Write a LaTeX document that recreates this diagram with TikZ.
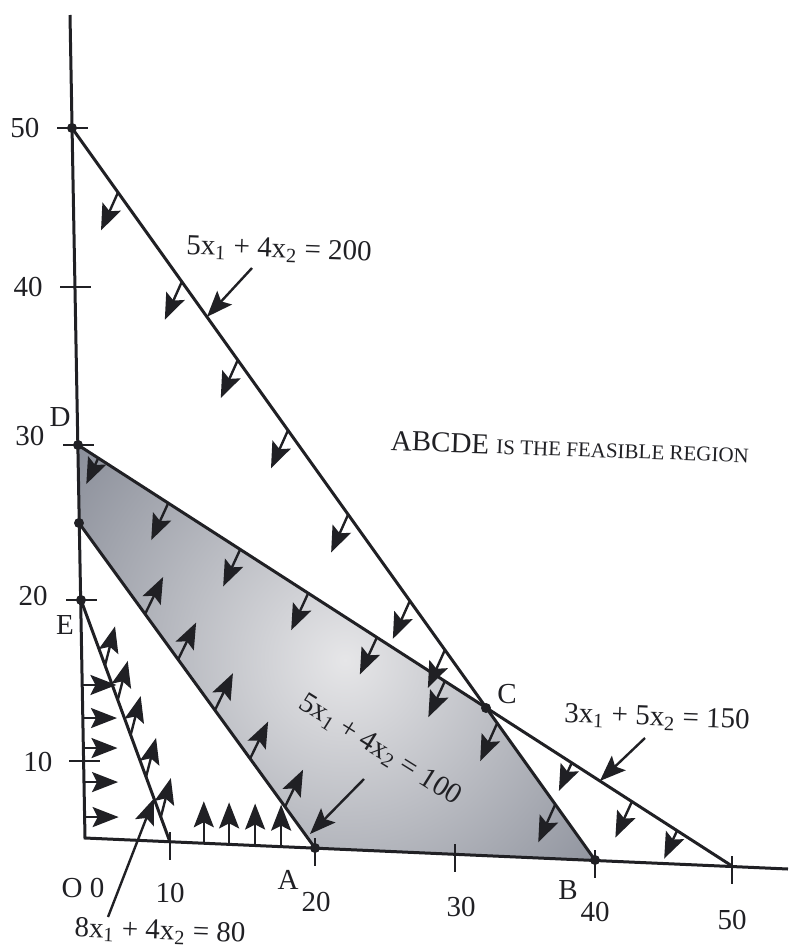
\documentclass[tikz,border=0pt]{standalone}
\usepackage{fontspec}
\setmainfont{Liberation Serif}
\usetikzlibrary{arrows.meta,calc}
\definecolor{ink}{RGB}{32,32,36}
\definecolor{regiondark}{RGB}{118,123,136}
\definecolor{regionlight}{RGB}{230,230,232}
\begin{document}
\begin{tikzpicture}[x=0.5pt, y=-0.5pt, >=Stealth,
  every node/.style={font=\fontsize{14.5}{17}\selectfont, inner sep=0pt, text=ink},
  cline/.style={draw=ink, line width=1.5pt},
  tickmark/.style={draw=ink, line width=1.3pt},
  hatcharrow/.style={draw=ink, line width=1.2pt, -{Stealth[length=13pt,width=10pt,inset=2.5pt]}},
  vdot/.style={circle, fill=ink, minimum size=5pt, inner sep=0pt},
  lbl/.style={rotate=-2}]
\useasboundingbox (0,0) rectangle (788,948);
\coordinate (ytop) at (70,15);
\coordinate (O) at (85,838);
\coordinate (xend) at (788,869);
\coordinate (p50) at (72,128);
\coordinate (y40) at (75,287);
\coordinate (D) at (78,445);
\coordinate (F) at (79,523);
\coordinate (E) at (81,600);
\coordinate (y10) at (84,761);
\coordinate (t10) at (170,842);
\coordinate (A) at (315,848);
\coordinate (t30) at (455,854);
\coordinate (B) at (595,860);
\coordinate (t50) at (732,866);
\coordinate (C) at (486,708);

\begin{scope}
  \clip (F) -- (D) -- (C) -- (B) -- (A) -- cycle;
  \shade[inner color=regionlight, outer color=regiondark] (345,660) circle (420);
\end{scope}

\draw[cline] (ytop) -- (O) -- (xend);
\draw[cline] (p50) -- (B);
\draw[cline] (D) -- (t50);
\draw[cline] (F) -- (A);
\draw[cline] (E) -- (t10);

\foreach \p in {p50,y40,D,E,y10}
  \draw[tickmark] ([xshift=-7.5pt]\p) -- ([xshift=8pt]\p);
\foreach \p in {t10,A,t30,B,t50}
  \draw[tickmark] ([yshift=5pt]\p) -- ([yshift=-9pt]\p);

\foreach \t in {0.088,0.210,0.317,0.413,0.528,0.646,0.713,0.813,0.924}
  \draw[hatcharrow] ($(p50)!\t!(B)$) -- ++(-17,38);
\foreach \t/\l in {0.031/26,0.138/37,0.248/37,0.352/37,0.457/37,0.561/36,0.755/28,0.847/36,0.916/28}
  \draw[hatcharrow] ($(D)!\t!(t50)$) -- ++({-0.46*\l},\l);
\foreach \t in {0.28,0.42,0.576,0.725,0.873}
  \draw[hatcharrow] ($(F)!\t!(A)$) -- ++(18,-37);
\foreach \t in {0.27,0.413,0.558,0.731,0.897}
  \draw[hatcharrow] ($(E)!\t!(t10)$) -- ++(10,-39);
\foreach \t in {0.357,0.496,0.622,0.765,0.912}
  \draw[hatcharrow] ($(E)!\t!(O)$) -- ++(34,0);
\foreach \t in {0.169,0.205,0.242,0.279}
  \draw[hatcharrow] ($(O)!\t!(xend)$) -- ++(0,-42);

\foreach \p in {p50,D,F,E,C,A,B}
  \node[vdot] (dot\p) at (\p) {};

\node[lbl] (lab200) at (279,250) {5x\textsubscript{1} + 4x\textsubscript{2} = 200};
\node[lbl] (lab150) at (657,718) {3x\textsubscript{1} + 5x\textsubscript{2} = 150};
\node[lbl] (lab80) at (160,932) {8x\textsubscript{1} + 4x\textsubscript{2} = 80};
\node[rotate=-32] (lab100) at (380,750) {5x\textsubscript{1} + 4x\textsubscript{2} = 100};
\node[lbl] (feas) at (570,447) {ABCDE {\fontsize{10.5}{12}\selectfont IS THE FEASIBLE REGION}};

\coordinate (tail200) at (252,268);
\coordinate (tail150) at (645,738);
\coordinate (tail100) at (364,779);
\coordinate (tip100) at (310,834);
\coordinate (tail80) at (108,917);
\draw[hatcharrow] (tail200) -- ($(p50)!0.258!(B)$);
\draw[hatcharrow] (tail150) -- ($(D)!0.798!(t50)$);
\draw[hatcharrow] (tail100) -- (tip100);
\draw[hatcharrow] (tail80) -- ($(E)!0.82!(t10)$);

\node (n50) at (25,128) {50};
\node (n40) at (28,287) {40};
\node (n30) at (30,436) {30};
\node (n20) at (33,596) {20};
\node (n10) at (38,762) {10};
\node (labD) at (60,417) {D};
\node (labE) at (65,625) {E};
\node (labC) at (507,694) {C};
\node (labO) at (72,888) {O};
\node (m0) at (97,888) {0};
\node (m10) at (170,893) {10};
\node (labA) at (288,880) {A};
\node (m20) at (316,902) {20};
\node (m30) at (461,907) {30};
\node (labB) at (568,890) {B};
\node (m40) at (595,912) {40};
\node (m50) at (732,920) {50};
\end{tikzpicture}
\end{document}
